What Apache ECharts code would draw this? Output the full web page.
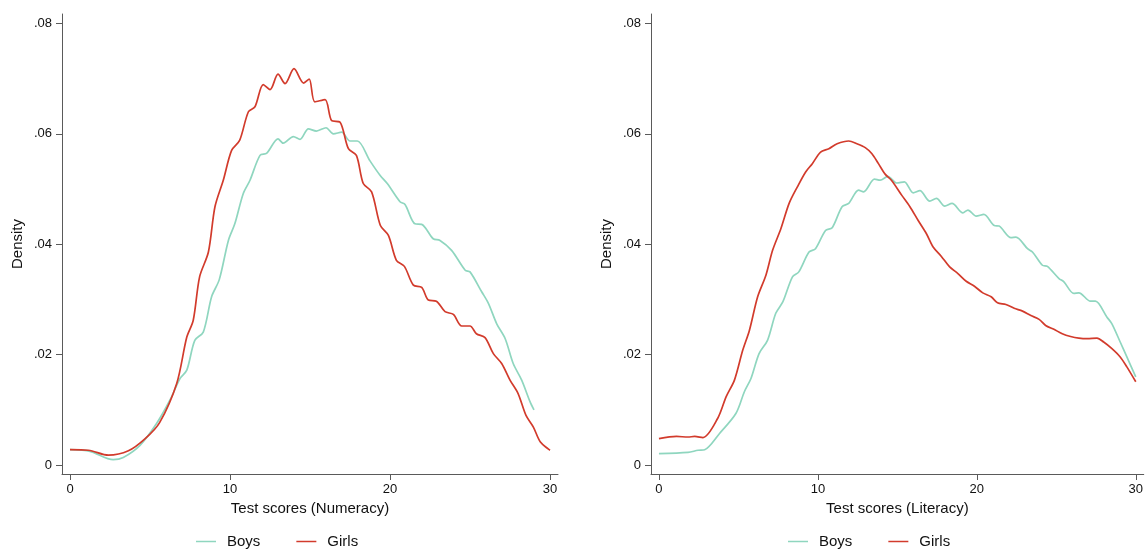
<!DOCTYPE html>
<html>
<head>
<meta charset="utf-8">
<script src="https://cdn.jsdelivr.net/npm/echarts@6/dist/echarts.min.js"></script>
<style>
html,body{margin:0;padding:0;background:#fff;}
#chart{width:1146px;height:549px;}
</style>
</head>
<body>
<div id="chart"></div>
<script>
// ---- Data (score, density) ----
const numBoys = [
 [0,0.0028],[1.25,0.0025],[2.7,0.0010],[3.33,0.0014],[4.375,0.0036],[5.4,0.0075],[6.25,0.0118],
 [6.875,0.0157],[7.3,0.0172],[7.8,0.0226],[8.33,0.0241],[8.85,0.0305],[9.33,0.0336],[9.9,0.0407],
 [10.3,0.0437],[10.83,0.0492],[11.25,0.0516],[11.875,0.0561],[12.3,0.0565],[13.0,0.0591],[13.33,0.0583],
 [13.96,0.0595],[14.375,0.0590],[14.9,0.0609],[15.4,0.0605],[16.0,0.0611],[16.46,0.0600],[16.98,0.0603],
 [17.5,0.0587],[17.96,0.0587],[18.75,0.0551],[19.375,0.0525],[19.83,0.0510],[20.625,0.0477],[20.94,0.0472],
 [21.56,0.0437],[21.98,0.0436],[22.7,0.0410],[23.125,0.0407],[23.85,0.0389],[24.7,0.0353],[25.0,0.0350],
 [25.73,0.0314],[26.15,0.0293],[26.67,0.0256],[27.2,0.0229],[27.7,0.0184],[28.23,0.0154],[28.75,0.0115],
 [29.0,0.0100]
];
const numGirls = [
 [0,0.0028],[1.15,0.0027],[2.4,0.0018],[3.65,0.0026],[4.7,0.0048],[5.6,0.0077],[6.67,0.0148],
 [7.3,0.0232],[7.7,0.0262],[8.1,0.0341],[8.65,0.0386],[9.06,0.0468],[9.58,0.0516],[10.1,0.0570],
 [10.6,0.0588],[11.15,0.0640],[11.56,0.0649],[12.08,0.0689],[12.5,0.0680],[13.0,0.0708],[13.44,0.0691],
 [14.0,0.0718],[14.6,0.0692],[14.95,0.0699],[15.3,0.0658],[15.94,0.0662],[16.35,0.0624],[16.88,0.0621],
 [17.4,0.0573],[17.9,0.0561],[18.33,0.0510],[18.85,0.0495],[19.4,0.0434],[19.9,0.0416],[20.4,0.0371],
 [20.9,0.0360],[21.46,0.0326],[21.98,0.0322],[22.4,0.0299],[22.9,0.0297],[23.44,0.0278],[23.96,0.0273],
 [24.48,0.0252],[25.0,0.0252],[25.4,0.0238],[25.94,0.0231],[26.46,0.0202],[26.98,0.0184],[27.5,0.0154],
 [28.0,0.0130],[28.5,0.0090],[28.96,0.0069],[29.4,0.0042],[30,0.0027]
];
const litBoys = [
 [0,0.0021],[1.83,0.0023],[2.46,0.0027],[2.875,0.0028],[3.8,0.0057],[4.85,0.0094],[5.375,0.0133],
 [5.79,0.0157],[6.3,0.0202],[6.83,0.0226],[7.35,0.0275],[7.8,0.0296],[8.4,0.0341],[8.8,0.0350],
 [9.44,0.0386],[9.85,0.0392],[10.48,0.0425],[10.9,0.0430],[11.52,0.0468],[11.94,0.0474],[12.56,0.0498],
 [12.875,0.0495],[13.56,0.0518],[13.92,0.0516],[14.4,0.0523],[14.96,0.0511],[15.44,0.0513],[16.0,0.0493],
 [16.42,0.0497],[17.04,0.0478],[17.46,0.0483],[17.98,0.0469],[18.44,0.0474],[19.125,0.0457],[19.44,0.0462],
 [19.96,0.0451],[20.44,0.0454],[21.1,0.0434],[21.4,0.0433],[22.15,0.0412],[22.46,0.0413],[23.19,0.0392],
 [23.5,0.0386],[24.125,0.0362],[24.44,0.0360],[25.17,0.0338],[25.48,0.0332],[26.1,0.0311],[26.42,0.0312],
 [27.15,0.0297],[27.46,0.0297],[28.19,0.0268],[28.5,0.0256],[29.02,0.0223],[29.44,0.0196],[30,0.0160]
];
const litGirls = [
 [0,0.0048],[1.1,0.0052],[1.83,0.0051],[2.25,0.0052],[2.77,0.0050],[3.7,0.0085],[4.23,0.0124],
 [4.75,0.0154],[5.27,0.0208],[5.69,0.0244],[6.21,0.0305],[6.73,0.0344],[7.15,0.0389],[7.67,0.0428],
 [8.19,0.0474],[8.71,0.0504],[9.23,0.0531],[9.65,0.0546],[10.17,0.0567],[10.69,0.0573],[11.21,0.0582],
 [11.94,0.0587],[12.46,0.0582],[12.98,0.0575],[13.4,0.0564],[13.81,0.0546],[14.23,0.0527],[14.65,0.0515],
 [15.27,0.0489],[15.79,0.0468],[16.31,0.0443],[16.83,0.0419],[17.25,0.0395],[17.77,0.0378],[18.29,0.0359],
 [18.81,0.0347],[19.33,0.0333],[19.85,0.0324],[20.375,0.0312],[20.9,0.0305],[21.3,0.0294],[21.83,0.0291],
 [22.35,0.0284],[22.875,0.0279],[23.4,0.0271],[23.92,0.0264],[24.33,0.0253],[24.85,0.0246],[25.375,0.0238],
 [25.9,0.0233],[26.42,0.0230],[26.94,0.0229],[27.56,0.0230],[27.98,0.0223],[28.5,0.0211],[29.02,0.0196],
 [29.44,0.0178],[30,0.0151]
];
const xTicks = [0, 10, 20, 30];
const yTicks = [0, 0.02, 0.04, 0.06, 0.08];
const xTitles = ['Test scores (Numeracy)', 'Test scores (Literacy)'];
const seriesNames = ['Boys', 'Girls'];

// ---- Styles ----
const BOYS = '#8fd6bf';
const GIRLS = '#d23b2c';
const AXIS = '#5a5a5a';
const FONT = 'Liberation Sans, Arial, sans-serif';

function fmtY(v){ return v === 0 ? '0' : String(v.toFixed(2)).replace(/^0/, ''); }

function xAxis(i){
  return {
    gridIndex: i, type: 'value', min: -0.5, max: 30.5,
    name: xTitles[i], nameLocation: 'middle', nameGap: 25,
    nameTextStyle: {fontFamily: FONT, fontSize: 15, color: '#111'},
    axisLine: {show: true, onZero: false, lineStyle: {color: AXIS, width: 1}},
    axisTick: {show: true, length: 6, lineStyle: {color: AXIS}, customValues: xTicks},
    axisLabel: {margin: 9, fontFamily: FONT, fontSize: 13, color: '#111', customValues: xTicks},
    splitLine: {show: false}
  };
}
function yAxis(i){
  return {
    gridIndex: i, type: 'value', min: -0.0016, max: 0.0817,
    name: 'Density', nameLocation: 'middle', nameGap: 37, nameMoveOverlap: false,
    nameTextStyle: {fontFamily: FONT, fontSize: 15, color: '#111'},
    axisLine: {show: true, onZero: false, lineStyle: {color: AXIS, width: 1}},
    axisTick: {show: true, length: 6, lineStyle: {color: AXIS}, customValues: yTicks},
    axisLabel: {margin: 10, fontFamily: FONT, fontSize: 13, color: '#111', customValues: yTicks, formatter: fmtY},
    splitLine: {show: false}
  };
}
function line(name, data, color, idx){
  return {
    name: name, type: 'line', xAxisIndex: idx, yAxisIndex: idx, data: data,
    showSymbol: false, smooth: 0.3, lineStyle: {color: color, width: 1.7},
    itemStyle: {color: color}, silent: true, animation: false
  };
}
function legend(left){
  return {
    left: left, top: 529, data: seriesNames, icon: 'rect', itemWidth: 20, itemHeight: 1.5,
    itemGap: 36, selectedMode: false,
    textStyle: {fontFamily: FONT, fontSize: 15, color: '#111', padding: [0,0,0,6]}
  };
}

const chart = echarts.init(document.getElementById('chart'), null, {renderer: 'canvas'});
chart.setOption({
  backgroundColor: '#fff',
  animation: false,
  grid: [
    {left: 62, top: 14, width: 496, height: 460},
    {left: 651, top: 14, width: 496, height: 460}
  ],
  xAxis: [xAxis(0), xAxis(1)],
  yAxis: [yAxis(0), yAxis(1)],
  legend: [legend(191), legend(783)],
  series: [
    line(seriesNames[0], numBoys, BOYS, 0),
    line(seriesNames[1], numGirls, GIRLS, 0),
    line(seriesNames[0], litBoys, BOYS, 1),
    line(seriesNames[1], litGirls, GIRLS, 1)
  ]
});
</script>
</body>
</html>
